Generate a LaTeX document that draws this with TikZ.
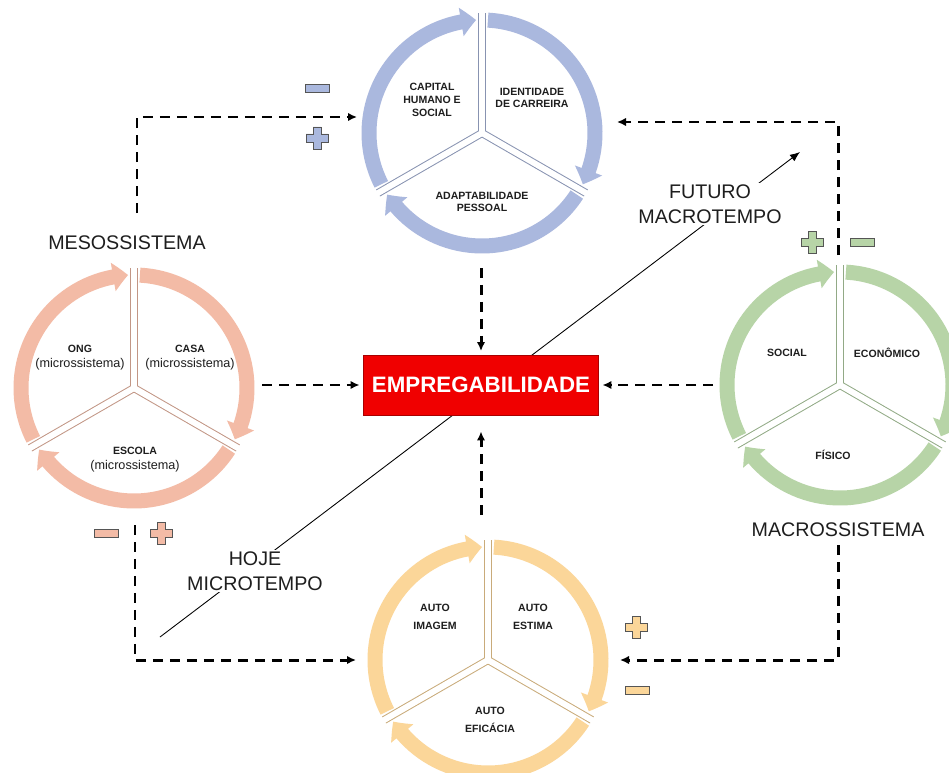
\documentclass[tikz,border=0pt]{standalone}
\usepackage{fontspec}
\setmainfont{Liberation Sans}
\usetikzlibrary{arrows.meta,bending,calc,positioning}
\definecolor{RingBlue}{HTML}{AAB8DE}
\definecolor{RingSalmon}{HTML}{F3BBA6}
\definecolor{RingGreen}{HTML}{B7D4A7}
\definecolor{RingYellow}{HTML}{FBD699}
\definecolor{BoxRed}{HTML}{F00000}
\definecolor{TextInk}{HTML}{1E1E1E}
\definecolor{SignEdge}{HTML}{555555}
\tikzset{
  pics/plussign/.style={code={\filldraw[fill=#1,draw=SignEdge,line width=0.5pt] (-4,-11)--(4,-11)--(4,-4)--(11,-4)--(11,4)--(4,4)--(4,11)--(-4,11)--(-4,4)--(-11,4)--(-11,-4)--(-4,-4)--cycle;}},
  pics/minussign/.style={code={\filldraw[fill=#1,draw=SignEdge,line width=0.5pt] (-12,-4) rectangle (12,4);}}
}

\begin{document}
\begin{tikzpicture}[x=0.02cm,y=0.02cm,every node/.style={text=TextInk},
  sector/.style={font=\fontsize{6}{7.2}\selectfont\bfseries,align=center},
  micro/.style={font=\fontsize{7.2}{8.6}\selectfont,align=center},
  big/.style={font=\fontsize{11.2}{14}\selectfont,align=center},
  ringarc/.style={line width=0.3cm,-{Triangle[length=0.3cm,width=0.56cm,bend]}},
  dasharrow/.style={-{Latex[length=1.8mm,width=1.7mm]},line width=1.7pt,dash pattern=on 0.2cm off 0.14cm},
  timearrow/.style={-{Latex[length=2mm,width=1.6mm]},line width=0.5pt}]
\useasboundingbox (0,0) rectangle (949,772);
\clip (0,0) rectangle (949,772);
\fill[white] (0,0) rectangle (949,772);

% time axis behind everything
\coordinate (hojeend) at (160,135); \coordinate (futuroend) at (800,620);
\draw[timearrow] (hojeend) -- (futuroend);
\node[big,fill=white,inner sep=1pt] (futuro) at (710,568) {FUTURO\\MACROTEMPO};
\node[big,fill=white,inner sep=1pt] (hoje) at (255,201) {HOJE\\MICROTEMPO};
\node[fill=BoxRed,draw=BoxRed!70!black,minimum width=4.7cm,minimum height=1.2cm,outer sep=0.08cm,font=\fontsize{12.7}{14}\selectfont\bfseries,text=white] (emp) at (481,387) {EMPREGABILIDADE};

% the four rings
\coordinate (Pes) at (482,639); \coordinate (Mes) at (134,384); \coordinate (Mac) at (840,387); \coordinate (Aut) at (488,112);
\foreach \c/\col in {Pes/RingBlue,Mes/RingSalmon,Mac/RingGreen,Aut/RingYellow}{
  \foreach \a in {90,210,330} \draw[\col!80!black,line width=0.16cm] (\c) -- +(\a:120);
  \foreach \a in {90,210,330} \draw[white,line width=0.12cm] (\c) -- +(\a:123);
  \foreach \s in {207,87,-33} \draw[ringarc,\col] ($(\c)+(\s:113)$) arc[start angle=\s,delta angle=-114,radius=113];
}

\node[sector] (capital) at (432,672) {CAPITAL\\HUMANO E\\SOCIAL};
\node[sector] (identidade) at (532,674) {IDENTIDADE\\DE CARREIRA};
\node[sector] (adapt) at (482,570) {ADAPTABILIDADE\\PESSOAL};
\node[micro] (ong) at (80,414) {{\fontsize{6}{7}\selectfont\bfseries ONG}\\(microssistema)};
\node[micro] (casa) at (190,414) {{\fontsize{6}{7}\selectfont\bfseries CASA}\\(microssistema)};
\node[micro] (escola) at (135,312) {{\fontsize{6}{7}\selectfont\bfseries ESCOLA}\\(microssistema)};
\node[sector] (social) at (787,419) {SOCIAL};
\node[sector] (economico) at (887,419) {ECONÔMICO};
\node[sector] (fisico) at (833,317) {FÍSICO};
\node[sector] (imagem) at (435,155) {AUTO\\[3pt]IMAGEM};
\node[sector] (estima) at (533,155) {AUTO\\[3pt]ESTIMA};
\node[sector] (eficacia) at (490,52) {AUTO\\[3pt]EFICÁCIA};

\node[big] (meso) at (127,529) {MESOSSISTEMA};
\node[big] (macro) at (838,242) {MACROSSISTEMA};

% dashed influences
\coordinate (mesoup) at (137,559); \coordinate (pesW) at (357,655);
\draw[dasharrow] (mesoup) |- (pesW);
\coordinate (macup) at (838,517); \coordinate (pesE) at (617,650);
\draw[dasharrow] (macup) |- (pesE);
\coordinate (pesS) at (481,504); \draw[dasharrow] (pesS) -- (emp.north);
\coordinate (mesE) at (262,387); \draw[dasharrow] (mesE) -- (emp.west);
\coordinate (macW) at (713,387); \draw[dasharrow] (macW) -- (emp.east);
\coordinate (autN) at (481,257); \draw[dasharrow,shorten >=0.25cm] (autN) -- (emp.south);
\coordinate (mesdown) at (135,247); \coordinate (autW) at (356,112);
\draw[dasharrow] (mesdown) |- (autW);
\coordinate (macdown) at (838,227); \coordinate (autE) at (620,112);
\draw[dasharrow] (macdown) |- (autE);

% signs
\pic at (317,684) {minussign=RingBlue}; \pic at (317,634) {plussign=RingBlue};
\pic at (106,239) {minussign=RingSalmon}; \pic at (161,239) {plussign=RingSalmon};
\pic at (812,530) {plussign=RingGreen}; \pic at (862,530) {minussign=RingGreen};
\pic at (636,145) {plussign=RingYellow}; \pic at (637,82) {minussign=RingYellow};

\end{tikzpicture}
\end{document}
